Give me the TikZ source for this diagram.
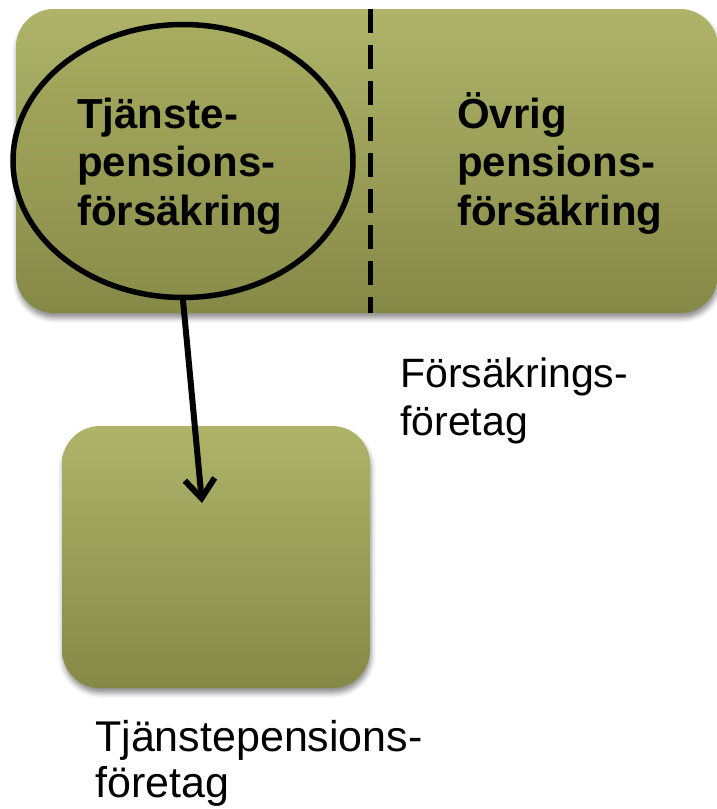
\documentclass[tikz,border=0pt]{standalone}
\usepackage{fontspec}
\setmainfont{Liberation Sans}
\usetikzlibrary{shapes.geometric,shadows.blur,arrows.meta}

\definecolor{olivetop}{HTML}{AFB46A}
\definecolor{olivebot}{HTML}{858946}
\definecolor{ovaltop}{HTML}{A7AC60}
\definecolor{ovalbot}{HTML}{8A8E4A}

\tikzset{
  panel/.style={rounded corners=38pt, top color=olivetop, bottom color=olivebot,
    draw=none, blur shadow={shadow xshift=1pt, shadow yshift=-5pt,
    shadow blur radius=5pt, shadow opacity=45}},
  oval/.style={ellipse, draw=black, line width=5.5pt, top color=ovaltop,
    bottom color=ovalbot, inner sep=0pt},
  boldlabel/.style={font=\bfseries\fontsize{42}{48.5}\selectfont, align=left,
    inner sep=0pt, anchor=base west},
  plainlabel/.style={font=\fontsize{41}{48}\selectfont, align=left,
    inner sep=0pt, anchor=base west},
  divider/.style={line width=5pt, dash pattern=on 24pt off 12pt},
  arrowline/.style={line width=6pt, line cap=round,
    -{Straight Barb[length=19pt,width=30pt,line width=6pt]}}
}

\begin{document}
\begin{tikzpicture}[x=1pt,y=-1pt]
  \useasboundingbox (0,0) rectangle (717,809);

  % insurance company panel
  \path[panel] (16,9) rectangle (718,313);
  \coordinate (dtop) at (370,9);
  \coordinate (dbot) at (370,313);
  \draw[divider] (dtop) -- (dbot);

  % occupational pension insurance oval
  \node[oval, minimum width=340pt, minimum height=273pt] (circ) at (183,161) {};

  \node[boldlabel] (tjp) at (77,225) {Tjänste-\\pensions-\\försäkring};
  \node[boldlabel] (ovr) at (457,225) {Övrig\\pensions-\\försäkring};

  \node[plainlabel] (fors) at (400,435) {Försäkrings-\\företag};

  % occupational pension company panel
  \path[panel] (62,426) rectangle (370,688);
  \node[plainlabel, font=\fontsize{43}{46}\selectfont] (tjf) at (95,797)
    {Tjänstepensions-\\företag};

  \coordinate (tip) at (202,503);
  \draw[arrowline] (circ.south) -- (tip);
\end{tikzpicture}
\end{document}
